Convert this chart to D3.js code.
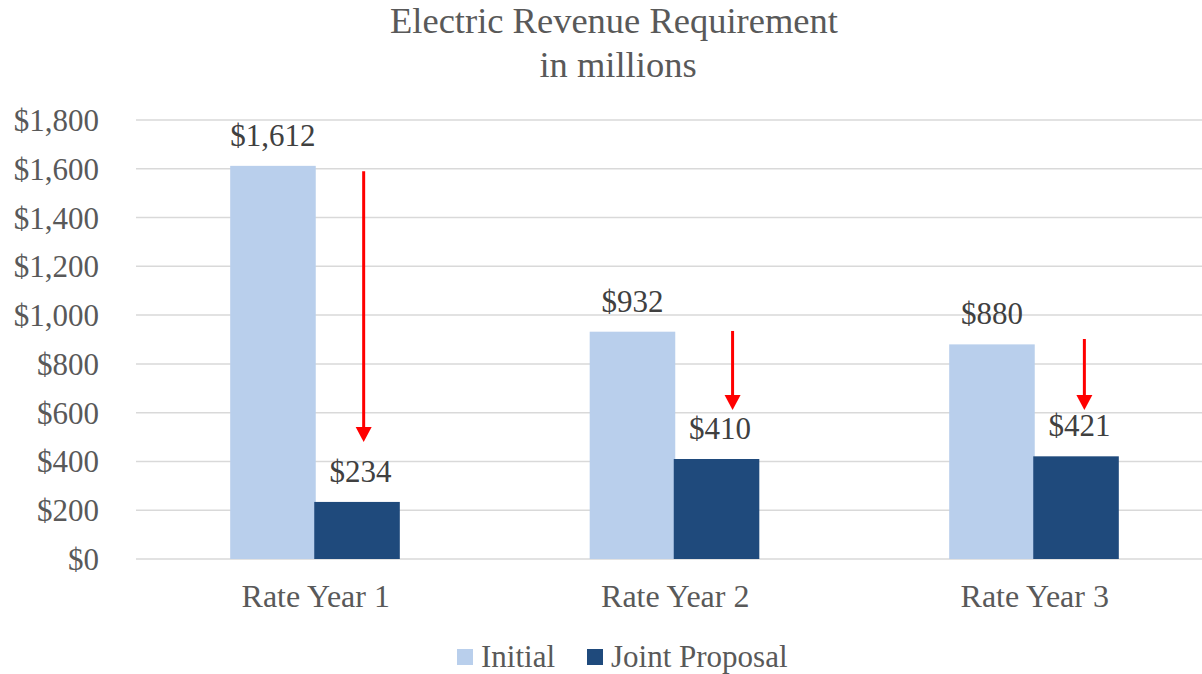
<!DOCTYPE html>
<html>
<head>
<meta charset="utf-8">
<script src="https://cdn.jsdelivr.net/npm/d3@7"></script>
<style>
  html, body { margin: 0; padding: 0; background: #fff; }
  svg { display: block; }
  text { font-family: "Liberation Serif", "Times New Roman", serif; }
</style>
</head>
<body>
<svg id="chart" width="1202" height="674"></svg>
<script>
// ---- data ----
const categories = ["Rate Year 1", "Rate Year 2", "Rate Year 3"];
const seriesNames = ["Initial", "Joint Proposal"];
const initialValues = [1612, 932, 880];
const jointValues = [234, 410, 421];
const yTicks = [0, 200, 400, 600, 800, 1000, 1200, 1400, 1600, 1800];
// reduction arrows (annotation): start value -> end value, per category
const arrowFrom = [1590, 935, 902];
const arrowTo = [480, 611, 611];
const arrowShift = [0.06, 0.17, 0.08]; // fraction of bar width right of Joint bar centre

const colors = ["#B9CFEC", "#1F4A7C"];

const W = 1202, H = 674;
const margin = { left: 136, right: -12.5, top: 120, bottom: 115 };
const svg = d3.select("#chart");

const x0 = d3.scaleBand().domain(categories).range([margin.left, W - margin.right]).paddingInner(0).paddingOuter(0);
const groupW = x0.bandwidth() * 0.476;
const x1 = d3.scaleBand().domain(seriesNames).range([0, groupW]).padding(0);
const y = d3.scaleLinear().domain([0, 1800]).range([559, 120]);

// gridlines
svg.append("g").selectAll("line").data(yTicks).join("line")
  .attr("x1", margin.left).attr("x2", W)
  .attr("y1", d => y(d)).attr("y2", d => y(d))
  .attr("stroke", "#d9d9d9").attr("stroke-width", 1.5);

// y axis labels
const yAxis = d3.axisLeft(y).tickValues(yTicks).tickSize(0).tickPadding(0)
  .tickFormat(d => "$" + d3.format(",")(d));
const gy = svg.append("g").attr("transform", `translate(99,0)`).call(yAxis);
gy.select(".domain").remove();
gy.attr("font-family", null);
gy.selectAll("text").attr("font-size", 31).attr("fill", "#595959")
  .attr("font-family", "Liberation Serif, Times New Roman, serif").attr("dy", "0.34em");

// x axis labels
const xAxis = d3.axisBottom(x0).tickSize(0).tickPadding(0);
const gx = svg.append("g").attr("transform", `translate(0,${y(0)})`).call(xAxis);
gx.select(".domain").remove();
gx.attr("font-family", null);
gx.selectAll("text").attr("font-size", 32).attr("fill", "#595959")
  .attr("font-family", "Liberation Serif, Times New Roman, serif").attr("dy", null).attr("y", 48);

// bars
const rows = categories.map((c, i) => ({ cat: c, vals: [initialValues[i], jointValues[i]] }));
const groups = svg.append("g").selectAll("g").data(rows).join("g")
  .attr("transform", d => `translate(${x0(d.cat) + (x0.bandwidth() - groupW) / 2},0)`);
groups.selectAll("rect").data(d => d.vals.map((v, j) => ({ s: seriesNames[j], v, j }))).join("rect")
  .attr("x", d => x1(d.s) - (d.j === 1 ? 1.5 : 0))
  .attr("width", x1.bandwidth())
  .attr("y", d => y(d.v))
  .attr("height", d => y(0) - y(d.v))
  .attr("fill", d => colors[d.j]);

// data labels
groups.selectAll("text.lbl").data(d => d.vals.map((v, j) => ({ s: seriesNames[j], v, j }))).join("text")
  .attr("class", "lbl")
  .attr("x", d => x1(d.s) + x1.bandwidth() / 2 + (d.j === 1 ? 2 : 0))
  .attr("y", d => y(d.v) - 20)
  .attr("text-anchor", "middle")
  .attr("font-size", 31).attr("fill", "#404040")
  .text(d => "$" + d3.format(",")(d.v));

// arrows
const arrowG = svg.append("g");
categories.forEach((c, i) => {
  const cx = x0(c) + (x0.bandwidth() - groupW) / 2 + x1(seriesNames[1]) + x1.bandwidth() * (0.5 + arrowShift[i]);
  const yTop = y(arrowFrom[i]);
  const yTip = y(arrowTo[i]);
  const headH = 15, headW = 16;
  arrowG.append("line")
    .attr("x1", cx).attr("x2", cx).attr("y1", yTop).attr("y2", yTip - headH + 1)
    .attr("stroke", "#FF0000").attr("stroke-width", 3);
  arrowG.append("path")
    .attr("d", `M${cx - headW / 2},${yTip - headH} L${cx + headW / 2},${yTip - headH} L${cx},${yTip} Z`)
    .attr("fill", "#FF0000");
});

// title
const title = svg.append("text").attr("text-anchor", "middle")
  .attr("font-size", 36.5).attr("fill", "#595959");
title.append("tspan").attr("x", 614).attr("y", 33).text("Electric Revenue Requirement");
title.append("tspan").attr("x", 618).attr("y", 77).text("in millions");

// legend
const legendX = [457, 587];
const lg = svg.append("g").selectAll("g").data(seriesNames).join("g")
  .attr("transform", (d, i) => `translate(${legendX[i]},0)`);
lg.append("rect").attr("x", 0).attr("y", 649).attr("width", 16).attr("height", 16)
  .attr("fill", (d, i) => colors[i]);
lg.append("text").attr("x", 24).attr("y", 667).attr("font-size", 31).attr("fill", "#595959").text(d => d);
</script>
</body>
</html>
